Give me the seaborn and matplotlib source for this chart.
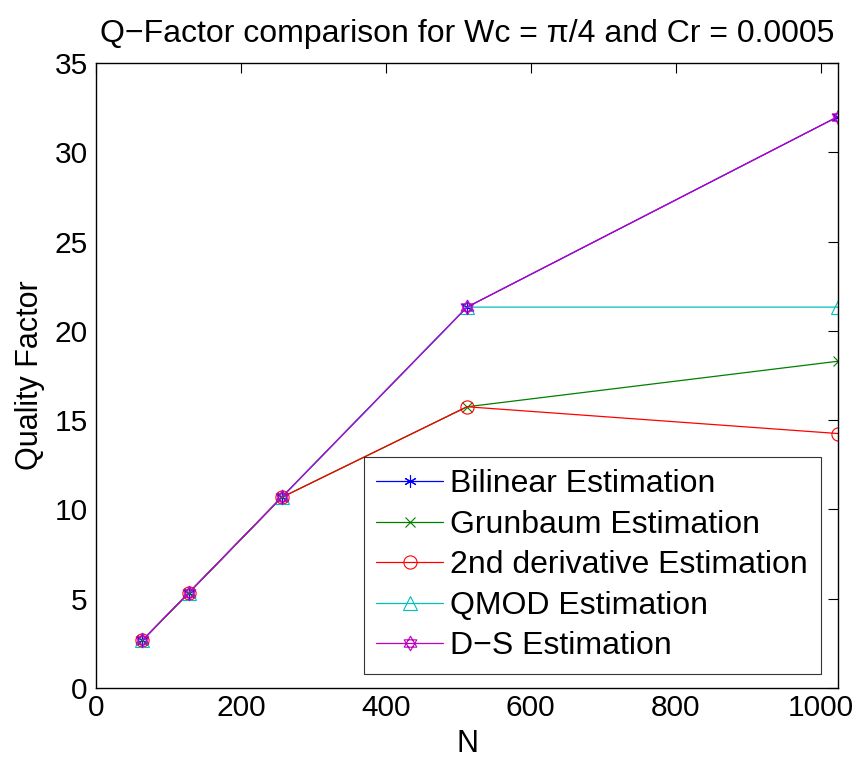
import numpy as np
import pandas as pd
import matplotlib
matplotlib.use("Agg")
import matplotlib.pyplot as plt
from matplotlib.path import Path
import seaborn as sns

N = [64, 128, 256, 512, 1024]
bilinear = [2.67, 5.33, 10.67, 21.33, 32.0]
grunbaum = [2.67, 5.33, 10.67, 15.75, 18.3]
second_deriv = [2.67, 5.33, 10.67, 15.75, 14.25]
qmod = [2.67, 5.33, 10.67, 21.33, 21.33]
ds = [2.67, 5.33, 10.67, 21.33, 32.0]

labels = ["Bilinear Estimation", "Grunbaum Estimation", "2nd derivative Estimation",
          "QMOD Estimation", "D\u2212S Estimation"]
series = [bilinear, grunbaum, second_deriv, qmod, ds]
colors = [(0, 0, 1), (0, 0.5, 0), (1, 0, 0), (0, 0.75, 0.75), (0.75, 0, 0.75)]

# hexagram marker (two overlapping triangles)
ang1 = np.deg2rad([90, 210, 330])
ang2 = np.deg2rad([270, 30, 150])
verts = []
codes = []
for ang in (ang1, ang2):
    pts = [(np.cos(a), np.sin(a)) for a in ang]
    verts += pts + [pts[0]]
    codes += [Path.MOVETO, Path.LINETO, Path.LINETO, Path.CLOSEPOLY]
hexagram = Path(verts, codes)

markers = [(6, 2, 0), "x", "o", "^", hexagram]
msizes = [9, 7, 9.5, 10, 10.5]

sns.set_style("white")
plt.rcParams['font.family'] = ['Liberation Sans', 'DejaVu Sans']
plt.rcParams['text.color'] = 'black'
plt.rcParams['axes.labelcolor'] = 'black'
plt.rcParams['xtick.color'] = 'black'
plt.rcParams['ytick.color'] = 'black'

fig = plt.figure(figsize=(8.59, 7.62), dpi=100)
ax = fig.add_axes([0.1118, 0.0971, 0.8638, 0.8202])

for lab, vals, col, mk, ms in zip(labels, series, colors, markers, msizes):
    df = pd.DataFrame({"N": N, "Q": vals})
    sns.lineplot(data=df, x="N", y="Q", ax=ax, color=col, marker=mk, markersize=ms,
                 markerfacecolor="none", markeredgecolor=col, markeredgewidth=0.8,
                 linewidth=0.9, label=lab)

ax.set_xlim(0, 1024)
ax.set_ylim(0, 35)
ax.set_xticks([0, 200, 400, 600, 800, 1000])
ax.set_yticks(np.arange(0, 36, 5))
ax.tick_params(axis="both", which="both", direction="in", length=7, width=0.8,
               labelsize=21.5, top=True, right=True, colors="black")
ax.tick_params(axis="x", pad=4)
ax.tick_params(axis="y", pad=6)
for sp in ax.spines.values():
    sp.set_visible(True)
    sp.set_color("black")
    sp.set_linewidth(1.0)

ax.set_xlabel("N", fontsize=22, labelpad=5, color="black")
ax.set_ylabel("Quality Factor", fontsize=22, labelpad=7, color="black")
ax.set_title("Q\u2212Factor comparison for Wc = \u03c0/4 and Cr = 0.0005", fontsize=23,
             pad=15, color="black")

leg = ax.legend(loc="lower right", bbox_to_anchor=(0.977, 0.022), borderaxespad=0,
                fontsize=23, frameon=True, fancybox=False, edgecolor="black",
                handlelength=2.1, handletextpad=0.22, labelspacing=0.33,
                borderpad=0.4)
leg.get_frame().set_linewidth(0.8)
for t in leg.get_texts():
    t.set_color("black")

fig.savefig("out.png", dpi=100, facecolor="white")
